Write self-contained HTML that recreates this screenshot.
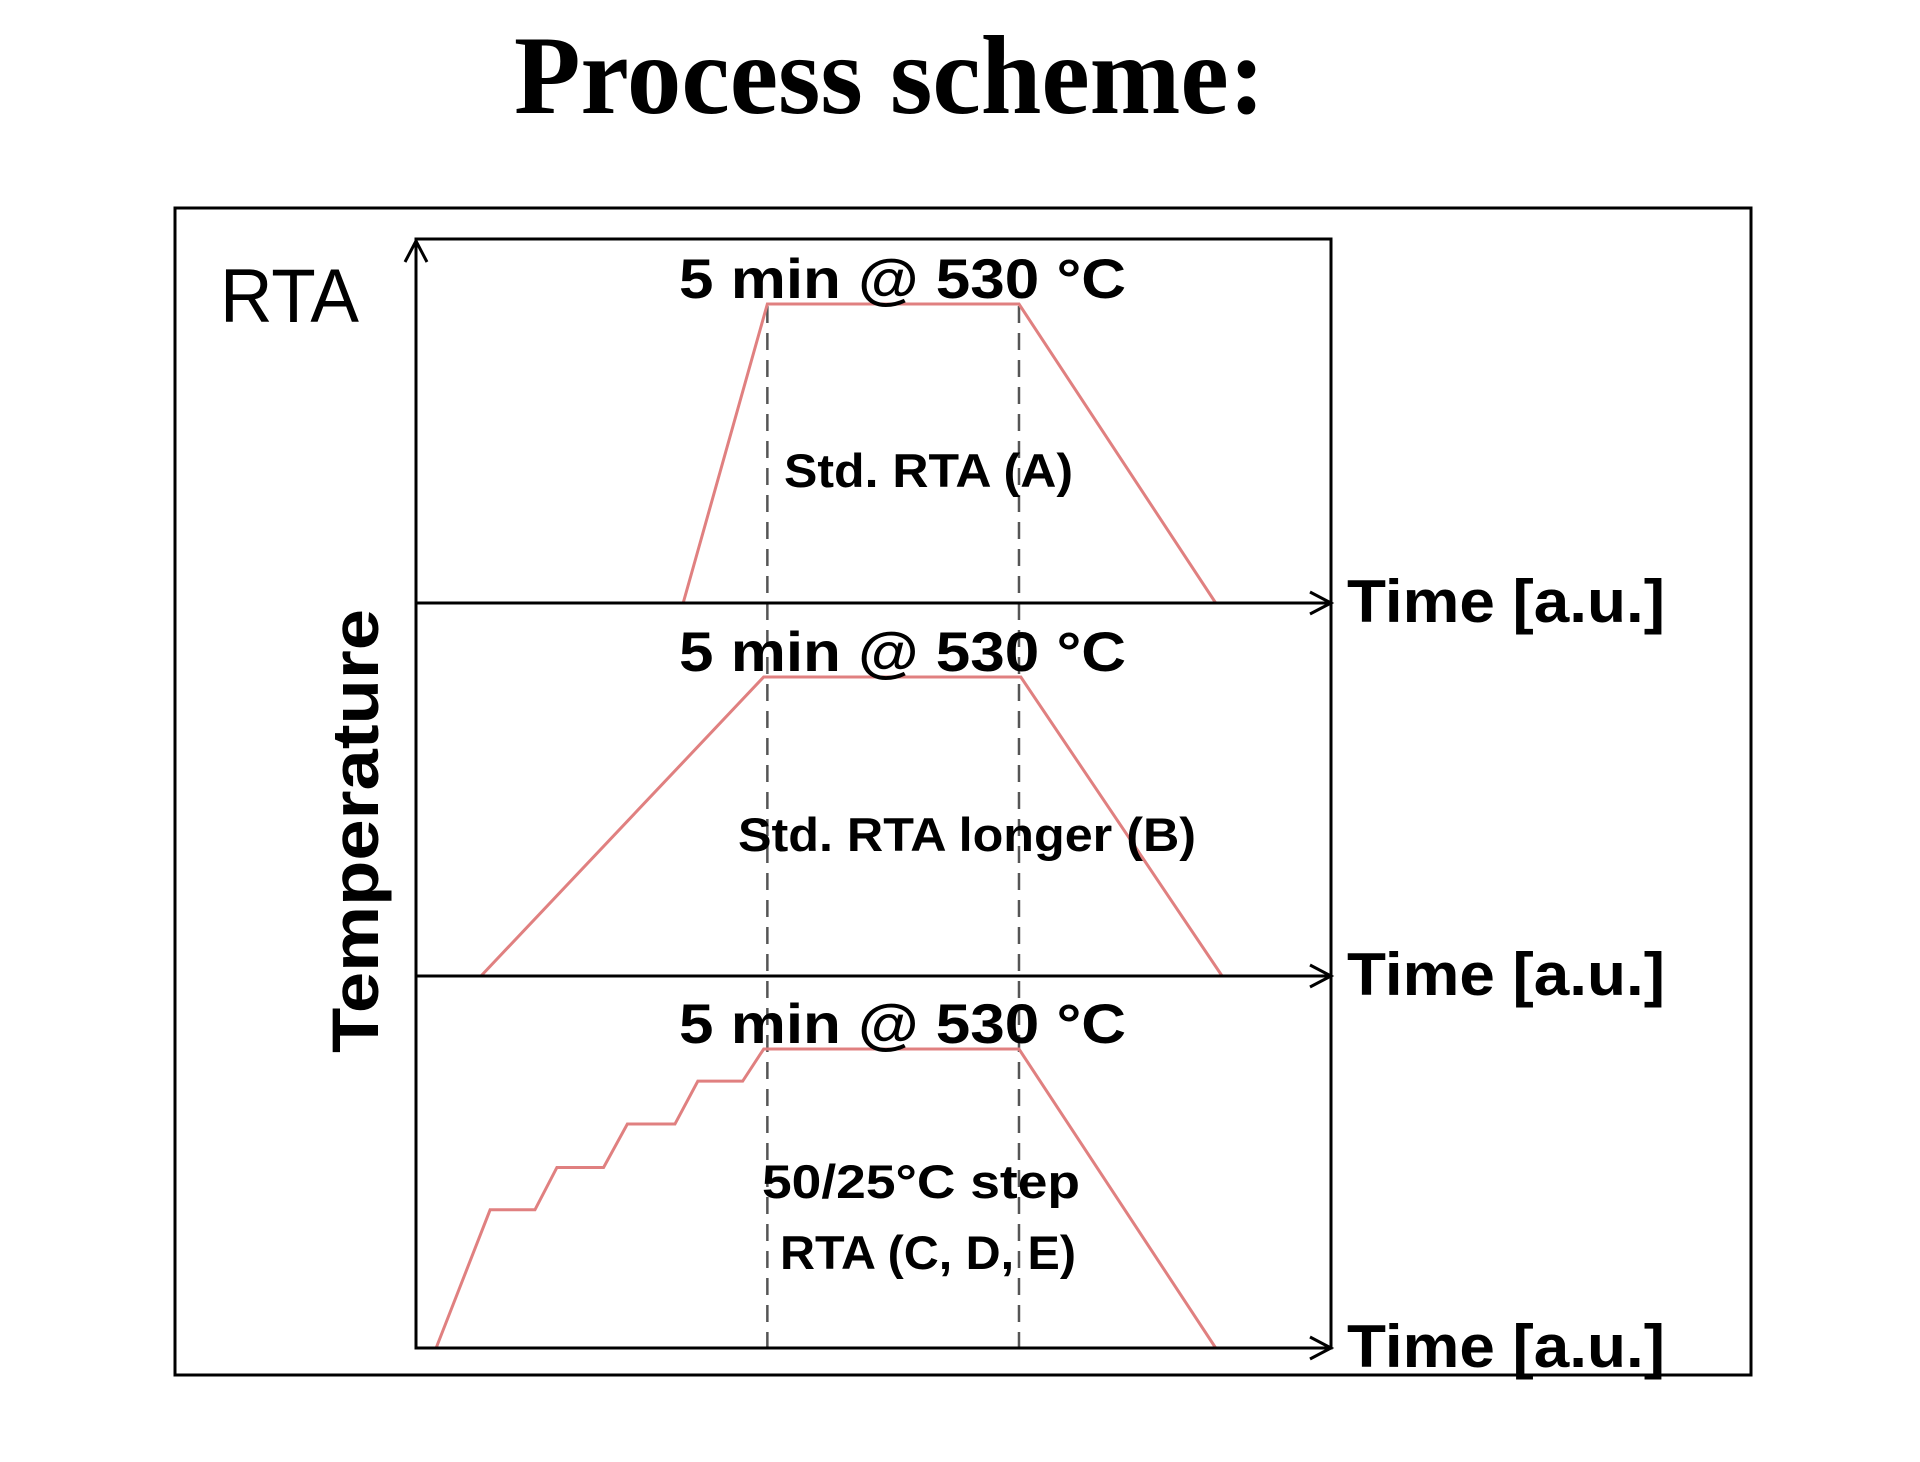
<!DOCTYPE html>
<html><head><meta charset="utf-8"><style>
html,body{margin:0;padding:0;background:#fff;}
svg{display:block;}
</style></head><body>
<svg id="chart" width="1920" height="1462" viewBox="0 0 1920 1462" xmlns="http://www.w3.org/2000/svg">
<text x="514" y="113" font-family="Liberation Serif, serif" font-weight="bold" font-size="112" textLength="751" lengthAdjust="spacingAndGlyphs">Process scheme:</text>
<rect x="175" y="208" width="1576" height="1167" fill="none" stroke="#000" stroke-width="3"/>
<rect x="416" y="239" width="915" height="1109" fill="none" stroke="#000" stroke-width="3"/>
<text x="220" y="322" font-family="Liberation Sans, sans-serif" font-size="76" textLength="139" lengthAdjust="spacingAndGlyphs">RTA</text>
<text transform="translate(378,1053) rotate(-90)" font-family="Liberation Sans, sans-serif" font-weight="bold" font-size="66" textLength="444" lengthAdjust="spacingAndGlyphs">Temperature</text>
<line x1="416" y1="1348" x2="416" y2="243" stroke="#000" stroke-width="3"/>
<polyline points="405,262 416,241 427,262" fill="none" stroke="#000" stroke-width="3"/>
<g id="panels"></g>
</svg>
<script>
// Data (time in a.u. 0..100, temperature in °C above baseline)
const panelNames = ["A", "B", "C"];
const timesA = [29.2, 38.4, 65.9, 87.4];
const tempsA = [0, 530, 530, 0];
const timesB = [7.1, 38.0, 66.1, 88.1];
const tempsB = [0, 530, 530, 0];
const timesC = [2.2, 8.1, 13.0, 15.4, 20.5, 23.1, 28.3, 30.8, 35.7, 38.0, 65.9, 87.4];
const tempsC = [0, 245, 245, 320, 320, 397, 397, 473, 473, 530, 530, 0];
const dashTimes = [38.4, 65.9];
const plateauLabels = ["5 min @ 530 °C", "5 min @ 530 °C", "5 min @ 530 °C"];

const NS = "http://www.w3.org/2000/svg";
const baselines = [603, 976, 1348];
const xScale = t => 416 + t * 9.15;
const yScale = (v, b) => b - v * (299 / 530);
const g = document.getElementById("panels");
function mk(tag, attrs) {
  const e = document.createElementNS(NS, tag);
  for (const k in attrs) e.setAttribute(k, attrs[k]);
  g.appendChild(e);
  return e;
}
// dashed lines
dashTimes.forEach((t, i) => {
  const l = mk("line", {x1: xScale(t), x2: xScale(t), y1: 306, y2: 1348, stroke: "#555", "stroke-width": 2.5, "stroke-dasharray": "17,10"});
  
  
});
const series = [[timesA, tempsA], [timesB, tempsB], [timesC, tempsC]];
series.forEach((s, i) => {
  const b = baselines[i];
  const pts = s[0].map((t, j) => xScale(t) + "," + yScale(s[1][j], b)).join(" ");
  const p = mk("polyline", {points: pts, fill: "none", stroke: "#e08080", "stroke-width": 3});
  
  
  const ax = mk("line", {x1: 416, x2: 1328, y1: b, y2: b, stroke: "#000", "stroke-width": 3});
  
  
  const ar = mk("polyline", {points: (1310) + "," + (b - 11) + " 1331," + b + " 1310," + (b + 11), fill: "none", stroke: "#000", "stroke-width": 3});
  
  
  const tl = mk("text", {x: 1347, y: b + 19, "font-family": "Liberation Sans, sans-serif", "font-weight": "bold", "font-size": 60, textLength: 318, lengthAdjust: "spacingAndGlyphs"});
  tl.textContent = "Time [a.u.]";
  
  
  const pl = mk("text", {x: 679, y: b - 305, "font-family": "Liberation Sans, sans-serif", "font-weight": "bold", "font-size": 56, textLength: 447, lengthAdjust: "spacingAndGlyphs"});
  pl.textContent = plateauLabels[i];
  
  
});
const labels = [
  ["Std. RTA (A)", 784, 487, 289, "label-a"],
  ["Std. RTA longer (B)", 738, 851, 458, "label-b"],
  ["50/25°C step", 762, 1198, 318, "label-c-line1"],
  ["RTA (C, D, E)", 780, 1269, 296, "label-c-line2"]
];
labels.forEach(L => {
  const t = mk("text", {x: L[1], y: L[2], "font-family": "Liberation Sans, sans-serif", "font-weight": "bold", "font-size": 47, textLength: L[3], lengthAdjust: "spacingAndGlyphs"});
  t.textContent = L[0];
  
  
});
</script>
</body></html>
